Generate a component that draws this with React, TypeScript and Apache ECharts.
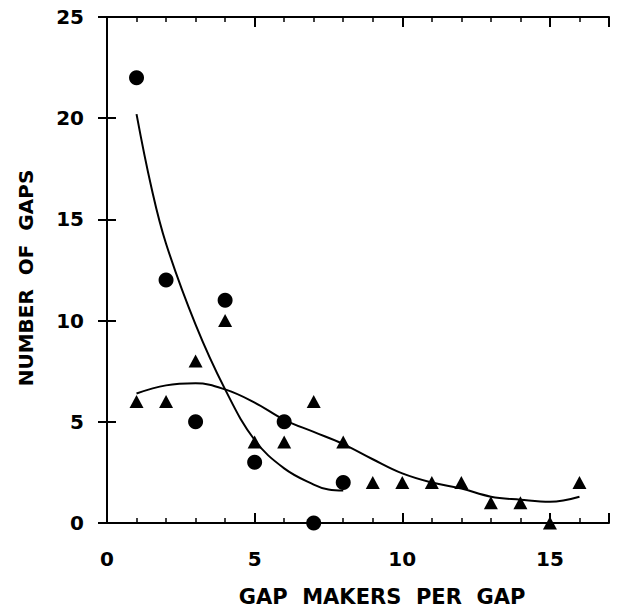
import React, { useEffect, useRef } from "react";
import * as echarts from "echarts";

// Circles (group 1)
const circleX = [1, 2, 3, 4, 5, 6, 7, 8];
const circleY = [22, 12, 5, 11, 3, 5, 0, 2];

// Triangles (group 2)
const triX = [1, 2, 3, 4, 5, 6, 7, 8, 9, 10, 11, 12, 13, 14, 15, 16];
const triY = [6, 6, 8, 10, 4, 4, 6, 4, 2, 2, 2, 2, 1, 1, 0, 2];

// Fitted curves
const circleFitX = [1, 1.5, 2, 3, 4, 5, 6, 7, 7.5, 8];
const circleFitY = [20.2, 16.6, 13.8, 9.8, 6.6, 4.1, 2.7, 1.9, 1.65, 1.6];
const triFitX = [1, 2, 3, 4, 5, 6, 7, 8, 9, 10, 11, 12, 13, 14, 15, 16];
const triFitY = [6.4, 6.8, 6.9, 6.6, 5.95, 5.1, 4.5, 3.9, 3.15, 2.45, 2.0, 1.7, 1.3, 1.15, 1.05, 1.3];

const xTickLabels = ["0", "5", "10", "15"];
const yTickLabels = ["0", "5", "10", "15", "20", "25"];
const xTitle = "GAP  MAKERS  PER  GAP";
const yTitle = "NUMBER  OF  GAPS";

const FONT = "'DejaVu Sans', sans-serif";
const INK = "#000";

export default function App() {
  const ref = useRef<HTMLDivElement>(null);
  useEffect(() => {
    if (!ref.current) return;
    const chart = echarts.init(ref.current, undefined, { renderer: "svg" });
    const pair = (xs: number[], ys: number[]) => xs.map((x, i) => [x, ys[i]]);
    const lineStyle = { color: INK, width: 2 };
    const minorStyle = { color: INK, width: 1.5 };
    const baseX = {
      type: "value",
      min: 0,
      max: 17,
      splitLine: { show: false },
    };
    const baseY = {
      type: "value",
      min: 0,
      max: 25,
      interval: 5,
      splitLine: { show: false },
    };
    chart.setOption({
      animation: false,
      backgroundColor: "#fff",
      grid: { left: 107, right: 11, top: 17, bottom: 85, containLabel: false },
      xAxis: [
        {
          ...baseX,
          position: "bottom",
          interval: 5,
          axisLine: { show: true, lineStyle },
          axisTick: { show: true, inside: true, length: 10, lineStyle },
          axisLabel: {
            show: true,
            margin: 26,
            color: INK,
            fontFamily: FONT,
            fontWeight: "bold",
            fontSize: 20,
            formatter: (v: number) => (xTickLabels.includes(String(v)) ? String(v) : ""),
          },
        },
        {
          ...baseX,
          position: "bottom",
          interval: 1,
          axisLine: { show: false },
          axisTick: { show: true, inside: true, length: 5, lineStyle: minorStyle },
          axisLabel: { show: false },
        },
        {
          ...baseX,
          position: "top",
          interval: 5,
          axisLine: { show: true, lineStyle },
          axisTick: { show: true, inside: true, length: 10, lineStyle },
          axisLabel: { show: false },
        },
        {
          ...baseX,
          position: "top",
          interval: 1,
          axisLine: { show: false },
          axisTick: { show: true, inside: true, length: 5, lineStyle: minorStyle },
          axisLabel: { show: false },
        },
      ],
      yAxis: [
        {
          ...baseY,
          position: "left",
          axisLine: { show: true, lineStyle },
          axisTick: { show: true, inside: true, length: 9, lineStyle },
          axisLabel: {
            show: true,
            margin: 23,
            color: INK,
            fontFamily: FONT,
            fontWeight: "bold",
            fontSize: 20,
            formatter: (v: number) => (yTickLabels.includes(String(v)) ? String(v) : ""),
          },
        },
        {
          ...baseY,
          position: "right",
          axisLine: { show: true, lineStyle },
          axisTick: { show: true, inside: true, length: 9, lineStyle },
          axisLabel: { show: false },
        },
      ],
      series: [
        {
          type: "line",
          data: pair(circleFitX, circleFitY),
          smooth: 0.4,
          showSymbol: false,
          lineStyle: { color: INK, width: 2 },
          silent: true,
        },
        {
          type: "line",
          data: pair(triFitX, triFitY),
          smooth: 0.4,
          showSymbol: false,
          lineStyle: { color: INK, width: 2 },
          silent: true,
        },
        {
          type: "scatter",
          data: pair(circleX, circleY),
          symbol: "circle",
          symbolSize: 15,
          itemStyle: { color: INK, opacity: 1 },
          clip: false,
        },
        {
          type: "scatter",
          data: pair(triX, triY),
          symbol: "triangle",
          symbolSize: [14, 13],
          itemStyle: { color: INK, opacity: 1 },
          clip: false,
        },
      ],
      graphic: [
        {
          type: "text",
          x: 382,
          y: 597,
          style: {
            text: xTitle,
            fill: INK,
            font: `bold 21px ${FONT}`,
            align: "center",
            verticalAlign: "middle",
          },
        },
        {
          type: "text",
          x: 26,
          y: 278,
          rotation: Math.PI / 2,
          style: {
            text: yTitle,
            fill: INK,
            font: `bold 20px ${FONT}`,
            align: "center",
            verticalAlign: "middle",
          },
        },
      ],
    });
    return () => chart.dispose();
  }, []);
  return <div ref={ref} style={{ width: 620, height: 608, position: "absolute", left: 0, top: 0 }} />;
}
